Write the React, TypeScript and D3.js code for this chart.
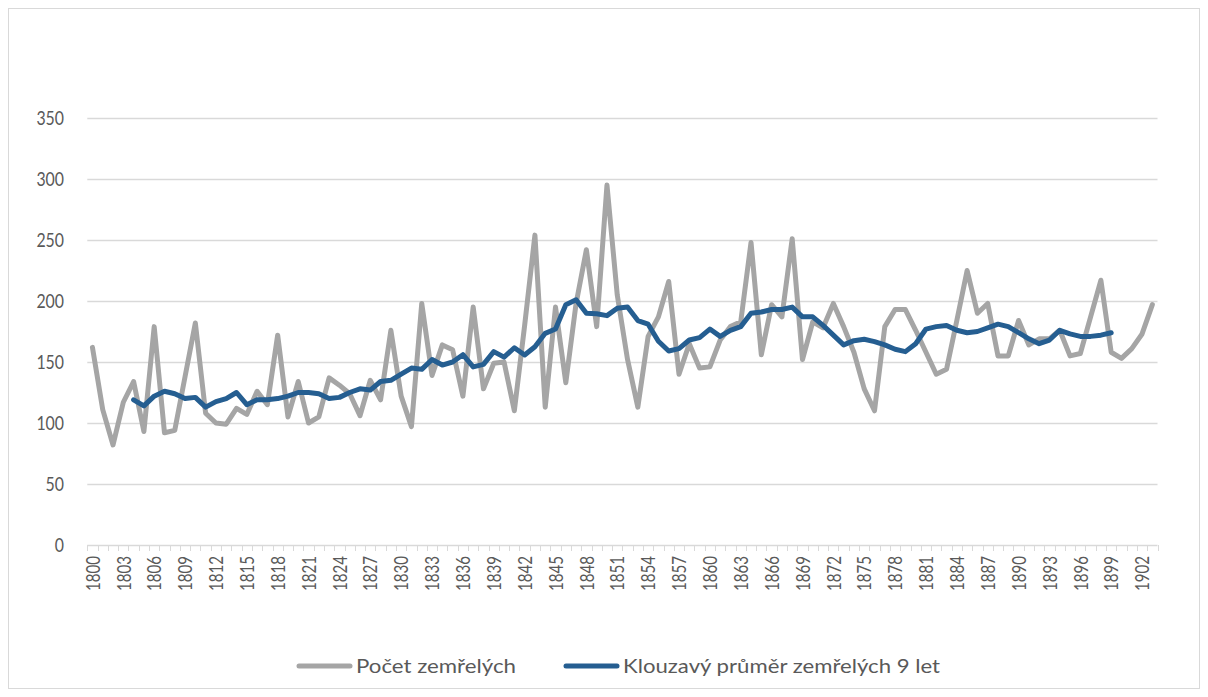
import * as d3 from 'd3'

// years on the category axis, 1800–1903
const YEARS: number[] = d3.range(1800, 1904)

// Počet zemřelých (one value per year 1800–1903)
const DEATHS = [
  162, 111, 82, 117, 134, 93, 179, 92, 94, 138,
  182, 108, 100, 99, 112, 107, 126, 115, 172, 105,
  134, 100, 105, 137, 131, 124, 106, 135, 119, 176,
  122, 97, 198, 139, 164, 160, 122, 195, 128, 149,
  150, 110, 180, 254, 113, 195, 133, 198, 242, 179,
  295, 205, 152, 113, 171, 187, 216, 140, 165, 145,
  146, 168, 179, 183, 248, 156, 197, 187, 251, 152,
  183, 178, 198, 179, 158, 128, 110, 179, 193, 193,
  176, 158, 140, 144, 184, 225, 190, 198, 155, 155,
  184, 164, 169, 169, 176, 155, 157, 187, 217, 158,
  153, 161, 173, 197
]

// Klouzavý průměr (9 let), first value belongs to 1804, last to 1899
const MA_START = 1804
const MOVING_AVG = [
  119, 114, 122, 126, 124, 120, 121, 113, 117.5, 120,
  125, 115, 119, 119, 120, 122, 125, 125, 124, 120,
  121, 125, 128, 127, 134, 135, 140, 145, 144, 152,
  147.5, 150, 156, 146, 148, 158.5, 154, 161.7, 155.7, 162.5,
  173.5, 177, 197, 201, 190, 189.5, 188, 194, 195, 184,
  181, 167, 159, 161, 168, 170, 177, 171, 176, 179,
  190, 191, 193, 193, 195, 187, 187, 180, 172, 164,
  167.5, 168.6, 166.7, 164, 160.4, 158.5, 165, 177, 179, 180,
  176, 174, 175, 178, 181, 179, 174, 169, 165, 168,
  176, 173, 171, 171, 172, 174
]

const Y_TICKS = [0, 50, 100, 150, 200, 250, 300, 350]
const SERIES = ['Počet zemřelých', 'Klouzavý průměr zemřelých 9 let']
const COLORS = ['#A5A5A5', '#255E91']

const FONT = 'Lato, "Open Sans", sans-serif'
const TEXT = '#595959'
const GRID = '#D9D9D9'

export default function App() {
  const W = 1208
  const H = 697
  const x = d3.scaleBand<number>().domain(YEARS).range([87.3, 1157.5]).padding(0)
  const y = d3.scaleLinear().domain([0, 350]).range([545, 118])
  const cx = (yr: number) => (x(yr) as number) + x.bandwidth() / 2

  const rawPts: [number, number][] = DEATHS.map((v, i) => [cx(YEARS[i]), y(v)])
  const maPts: [number, number][] = MOVING_AVG.map((v, i) => [cx(MA_START + i), y(v)])
  const line = d3.line()
  const labelYears = YEARS.filter((_, i) => i % 3 === 0)

  return (
    <svg
      width={W}
      height={H}
      style={{ position: 'absolute', left: 0, top: 0, background: '#fff' }}
      fontFamily={FONT}
    >
      <rect x={8.5} y={8.5} width={1191} height={680} fill="#fff" stroke={GRID} strokeWidth={1} />

      {/* gridlines */}
      {Y_TICKS.map(t => (
        <line key={t} x1={87.3} x2={1157.5} y1={Math.round(y(t)) + 0.5} y2={Math.round(y(t)) + 0.5}
          stroke={GRID} strokeWidth={1.3} />
      ))}
      {/* category ticks */}
      {YEARS.concat([1904]).map((yr, i) => {
        const xx = Math.round(87.3 + i * x.bandwidth()) + 0.5
        return <line key={'t' + i} x1={xx} x2={xx} y1={545} y2={551} stroke={GRID} strokeWidth={1} />
      })}

      {/* y labels */}
      {Y_TICKS.map(t => (
        <text key={'yl' + t} x={64} y={y(t)} dy="0.36em" textAnchor="end" fontSize={19} fill={TEXT}
          textLength={String(t).length * 9.2} lengthAdjust="spacingAndGlyphs">
          {t}
        </text>
      ))}

      {/* x labels */}
      {labelYears.map(yr => (
        <text key={'xl' + yr} transform={`translate(${cx(yr)},556) rotate(-90)`} textAnchor="end"
          dy="0.36em" fontSize={20} fill={TEXT} textLength={35} lengthAdjust="spacingAndGlyphs">
          {yr}
        </text>
      ))}

      {/* series */}
      <path d={line(rawPts) || ''} fill="none" stroke={COLORS[0]} strokeWidth={5}
        strokeLinejoin="round" strokeLinecap="round" />
      <path d={line(maPts) || ''} fill="none" stroke={COLORS[1]} strokeWidth={5}
        strokeLinejoin="round" strokeLinecap="round" />

      {/* legend */}
      <line x1={299} x2={350} y1={666} y2={666} stroke={COLORS[0]} strokeWidth={5} strokeLinecap="round" />
      <text x={356} y={673} fontSize={19} fill={TEXT} textLength={160} lengthAdjust="spacingAndGlyphs">
        {SERIES[0]}
      </text>
      <line x1={566} x2={617} y1={666} y2={666} stroke={COLORS[1]} strokeWidth={5} strokeLinecap="round" />
      <text x={623} y={673} fontSize={19} fill={TEXT} textLength={317} lengthAdjust="spacingAndGlyphs">
        {SERIES[1]}
      </text>
    </svg>
  )
}
